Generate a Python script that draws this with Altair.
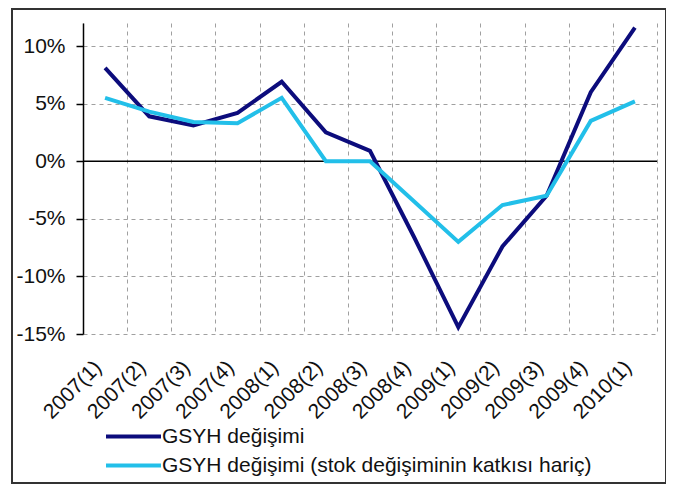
import altair as alt
import pandas as pd

quarters = ["2007(1)", "2007(2)", "2007(3)", "2007(4)", "2008(1)", "2008(2)", "2008(3)",
            "2008(4)", "2009(1)", "2009(2)", "2009(3)", "2009(4)", "2010(1)"]
series_names = ["GSYH değişimi", "GSYH değişimi (stok değişiminin katkısı hariç)"]
gsyh = [8.1, 3.9, 3.1, 4.2, 6.9, 2.5, 0.9, -6.6, -14.4, -7.4, -3.0, 6.0, 11.6]
gsyh_exstock = [5.5, 4.3, 3.4, 3.3, 5.5, 0.0, 0.0, -3.5, -7.0, -3.8, -3.0, 3.5, 5.2]
y_ticks = [-15, -10, -5, 0, 5, 10]
colors = ["#0c0c7c", "#22bfe9"]

rows = []
for name, vals in zip(series_names, [gsyh, gsyh_exstock]):
    for q, v in zip(quarters, vals):
        rows.append({"quarter": q, "value": v, "series": name})
df = pd.DataFrame(rows)

FONT = "Liberation Sans"

x_enc = alt.X("quarter:N", sort=quarters, bandPosition=0.5,
              scale=alt.Scale(type="band", paddingInner=0, paddingOuter=0),
              axis=alt.Axis(title=None, labelAngle=-45, labelAlign="right", labelBaseline="middle",
                            labelPadding=30, labelOffset=-7, ticks=False, domain=False, tickBand="extent",
                            grid=True, gridDash=[4, 4], gridColor="#a0a0a0", gridWidth=1,
                            labelFont=FONT, labelFontSize=21, labelColor="#111"))
y_enc = alt.Y("value:Q",
              scale=alt.Scale(domain=[-15, 12], nice=False, zero=False),
              axis=alt.Axis(title=None, values=y_ticks, labelExpr="datum.value + '%'",
                            grid=True, gridDash=[4, 4], gridColor="#a0a0a0", gridWidth=1,
                            domain=True, domainColor="#000", domainWidth=1.5,
                            ticks=True, tickSize=7, tickColor="#000", tickWidth=1.5,
                            labelPadding=11, labelFont=FONT, labelFontSize=21, labelColor="#111"))

lines = alt.Chart(df).mark_line(strokeWidth=4).encode(
    x=x_enc,
    y=y_enc,
    color=alt.Color("series:N",
                    scale=alt.Scale(domain=series_names, range=colors),
                    legend=alt.Legend(title=None, orient="none", legendX=40, legendY=403,
                                      symbolType="M-5,0H5", symbolSize=121, symbolStrokeWidth=4,
                                      labelFont=FONT, labelFontSize=21, labelColor="#111",
                                      labelOffset=18, rowPadding=7, labelLimit=600)),
    order=alt.Order("series:N"),
)

zero_rule = alt.Chart(pd.DataFrame({"z": [0]})).mark_rule(color="#000", strokeWidth=1.5).encode(
    y=alt.Y("z:Q")
)

frame = alt.Chart(pd.DataFrame({"a": [0]})).mark_rect(filled=False, stroke="#333", strokeWidth=2).encode(
    x=alt.value(-71), x2=alt.value(583), y=alt.value(-14), y2=alt.value(460)
)

chart = alt.layer(zero_rule, lines, frame).properties(
    width=574, height=311,
    padding={"left": 75, "top": 15, "right": 9, "bottom": 151},
    autosize=alt.AutoSizeParams(type="none"),
    background="white",
).configure_view(stroke=None)

chart.save("out.html", embed_options={"renderer": "svg", "actions": False})
